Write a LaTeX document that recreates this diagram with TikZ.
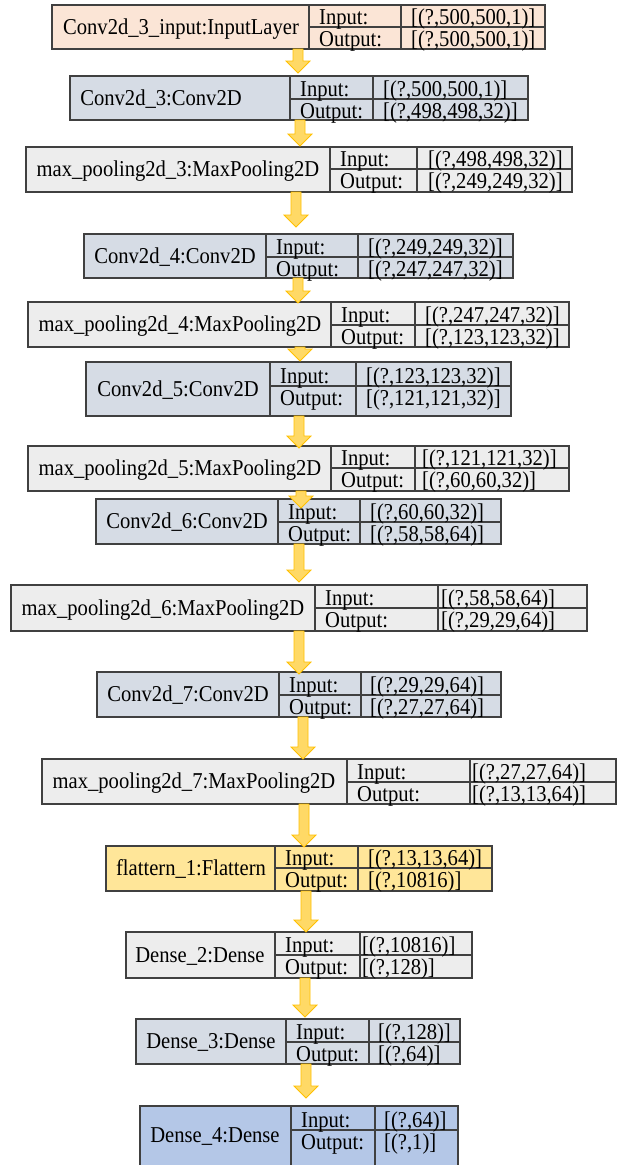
\documentclass[tikz,border=0pt]{standalone}
\usepackage{graphicx}
\usepackage{fontspec}
\setmainfont{Liberation Serif}
\usetikzlibrary{calc,fit}
\definecolor{peach}{HTML}{FBE5D6}
\definecolor{convc}{HTML}{D6DCE5}
\definecolor{poolc}{HTML}{EDEDED}
\definecolor{flatc}{HTML}{FFE699}
\definecolor{densec}{HTML}{B4C7E7}
\definecolor{edgec}{HTML}{404040}
\definecolor{arrfill}{HTML}{FFD966}
\definecolor{arredge}{HTML}{FFC000}
\tikzset{
  box/.style={draw=edgec, line width=1.1pt, inner sep=0pt, outer sep=0pt},
  grid/.style={draw=edgec, line width=1.1pt},
  lbl/.style={inner sep=0pt, font=\fontsize{20.6}{24}\selectfont},
  blockarrow/.style={fill=arrfill, draw=arredge, line width=0.8pt, line join=miter,
    to path={let \p1=(\tikztostart), \p2=(\tikztotarget) in
      (\x2-5pt,\y1) -- (\x2+5pt,\y1) -- (\x2+5pt,\y2+12pt) -- (\x2+12pt,\y2+12pt)
      -- (\x2,\y2) -- (\x2-12pt,\y2+12pt) -- (\x2-5pt,\y2+12pt) -- cycle}},
}
\newcommand\tall[1]{\scalebox{1}[1.1]{#1}}
% #1 name, #2 fill, #3 x1, #4 y1, #5 x2, #6 y2, #7 c1, #8 c2, #9 ym
\newcommand\layerbox[9]{%
  \node[box, fill=#2, fit={(#3,#4) (#5,#6)}] (#1) {};
  \draw[grid] (#7,#4) -- (#7,#6) (#8,#4) -- (#8,#6) (#7,#9) -- (#5,#9);
}
% #1 name, #2 label cx, #3 label, #4 in x, #5 val x, #6 in val, #7 out val, #8 box centre y, #9 ym
\newcommand\layertext[9]{%
  \node[lbl, anchor=base] (#1-l) at ({#2},{#8+7}) {\tall{#3}};
  \node[lbl, anchor=base west] (#1-i) at ({#4},{#9-3}) {\tall{Input:}};
  \node[lbl, anchor=base west] (#1-o) at ({#4},{#9+19}) {\tall{Output:}};
  \node[lbl, anchor=base west] (#1-iv) at ({#5},{#9-3}) {\tall{#6}};
  \node[lbl, anchor=base west] (#1-ov) at ({#5},{#9+19}) {\tall{#7}};
}
\begin{document}
\begin{tikzpicture}[x=1pt,y=-1pt]
\useasboundingbox (0,0) rectangle (618,1165);
\fill[white] (0,0) rectangle (618,1165);
\clip (0,0) rectangle (618,1165);

\layerbox{b1}{peach}{52}{5}{545}{49}{309}{401}{27}
\layertext{b1}{181}{Conv2d\_3\_input:InputLayer}{319}{411}{[(?,500,500,1)]}{[(?,500,500,1)]}{27}{27}

\layerbox{b2}{convc}{70}{76}{528}{120}{290}{373}{99}
\layertext{b2}{161}{Conv2d\_3:Conv2D}{300}{383}{[(?,500,500,1)]}{[(?,498,498,32)]}{98}{99}

\layerbox{b3}{poolc}{26}{147}{572}{192}{330}{417}{169}
\layertext{b3}{178}{max\_pooling2d\_3:MaxPooling2D}{340}{428}{[(?,498,498,32)]}{[(?,249,249,32)]}{169.5}{169}

\layerbox{b4}{convc}{84}{234}{513}{278}{266}{358}{257}
\layertext{b4}{175}{Conv2d\_4:Conv2D}{276}{368}{[(?,249,249,32)]}{[(?,247,247,32)]}{256}{257}

\layerbox{b5}{poolc}{28}{302}{569}{347}{331}{415}{325}
\layertext{b5}{180}{max\_pooling2d\_4:MaxPooling2D}{341}{425}{[(?,247,247,32)]}{[(?,123,123,32)]}{324.5}{325}

\layerbox{b6}{convc}{86}{362}{511}{416}{270}{356}{386}
\layertext{b6}{178}{Conv2d\_5:Conv2D}{280}{366}{[(?,123,123,32)]}{[(?,121,121,32)]}{389}{386}

\layerbox{b7}{poolc}{28}{446}{569}{491}{331}{415}{468}
\layertext{b7}{180}{max\_pooling2d\_5:MaxPooling2D}{341}{422}{[(?,121,121,32)]}{[(?,60,60,32)]}{468.5}{468}

\layerbox{b8}{convc}{96}{499}{501}{544}{278}{360}{522}
\layertext{b8}{187}{Conv2d\_6:Conv2D}{288}{370}{[(?,60,60,32)]}{[(?,58,58,64)]}{521.5}{522}

\layerbox{b9}{poolc}{11}{585}{587}{631}{315}{438}{608}
\layertext{b9}{163}{max\_pooling2d\_6:MaxPooling2D}{325}{441}{[(?,58,58,64)]}{[(?,29,29,64)]}{608}{608}

\layerbox{b10}{convc}{97}{672}{501}{717}{279}{361}{695}
\layertext{b10}{188}{Conv2d\_7:Conv2D}{289}{370}{[(?,29,29,64)]}{[(?,27,27,64)]}{694.5}{695}

\layerbox{b11}{poolc}{42}{759}{616}{804}{347}{470}{782}
\layertext{b11}{194}{max\_pooling2d\_7:MaxPooling2D}{357}{472}{[(?,27,27,64)]}{[(?,13,13,64)]}{781.5}{782}

\layerbox{b12}{flatc}{106}{846}{492}{891}{275}{358}{868}
\layertext{b12}{191}{flattern\_1:Flattern}{285}{368}{[(?,13,13,64)]}{[(?,10816)]}{868.5}{868}

\layerbox{b13}{poolc}{126}{932}{472}{978}{275}{360}{955}
\layertext{b13}{200}{Dense\_2:Dense}{285}{362}{[(?,10816)]}{[(?,128)]}{955}{955}

\layerbox{b14}{convc}{136}{1019}{460}{1064}{286}{369}{1042}
\layertext{b14}{211}{Dense\_3:Dense}{296}{378}{[(?,128)]}{[(?,64)]}{1041.5}{1042}

\layerbox{b15}{densec}{140}{1106}{458}{1175}{291}{375}{1130}
\layertext{b15}{215}{Dense\_4:Dense}{301}{384}{[(?,64)]}{[(?,1)]}{1135.5}{1130}

% arrow tips
\coordinate (t1) at (298,73);
\coordinate (t2) at (300,146);
\coordinate (t3) at (296,227);
\coordinate (t4) at (298,303);
\coordinate (t5) at (300,361);
\coordinate (t6) at (299,448);
\coordinate (t7) at (301,508);
\coordinate (t8) at (299,582);
\coordinate (t9) at (299,674);
\coordinate (t10) at (303,759);
\coordinate (t11) at (304,847);
\coordinate (t12) at (306,932);
\coordinate (t13) at (305,1017);
\coordinate (t14) at (306,1098);

\path[blockarrow] (b1.south -| t1) to (t1);
\path[blockarrow] (b2.south -| t2) to (t2);
\path[blockarrow] (b3.south -| t3) to (t3);
\path[blockarrow] (b4.south -| t4) to (t4);
\path[blockarrow] (b5.south -| t5) to (t5);
\path[blockarrow] (b6.south -| t6) to (t6);
\path[blockarrow] (b7.south -| t7) to (t7);
\path[blockarrow] (b8.south -| t8) to (t8);
\path[blockarrow] (b9.south -| t9) to (t9);
\path[blockarrow] (b10.south -| t10) to (t10);
\path[blockarrow] (b11.south -| t11) to (t11);
\path[blockarrow] (b12.south -| t12) to (t12);
\path[blockarrow] (b13.south -| t13) to (t13);
\path[blockarrow] (b14.south -| t14) to (t14);
\end{tikzpicture}
\end{document}
